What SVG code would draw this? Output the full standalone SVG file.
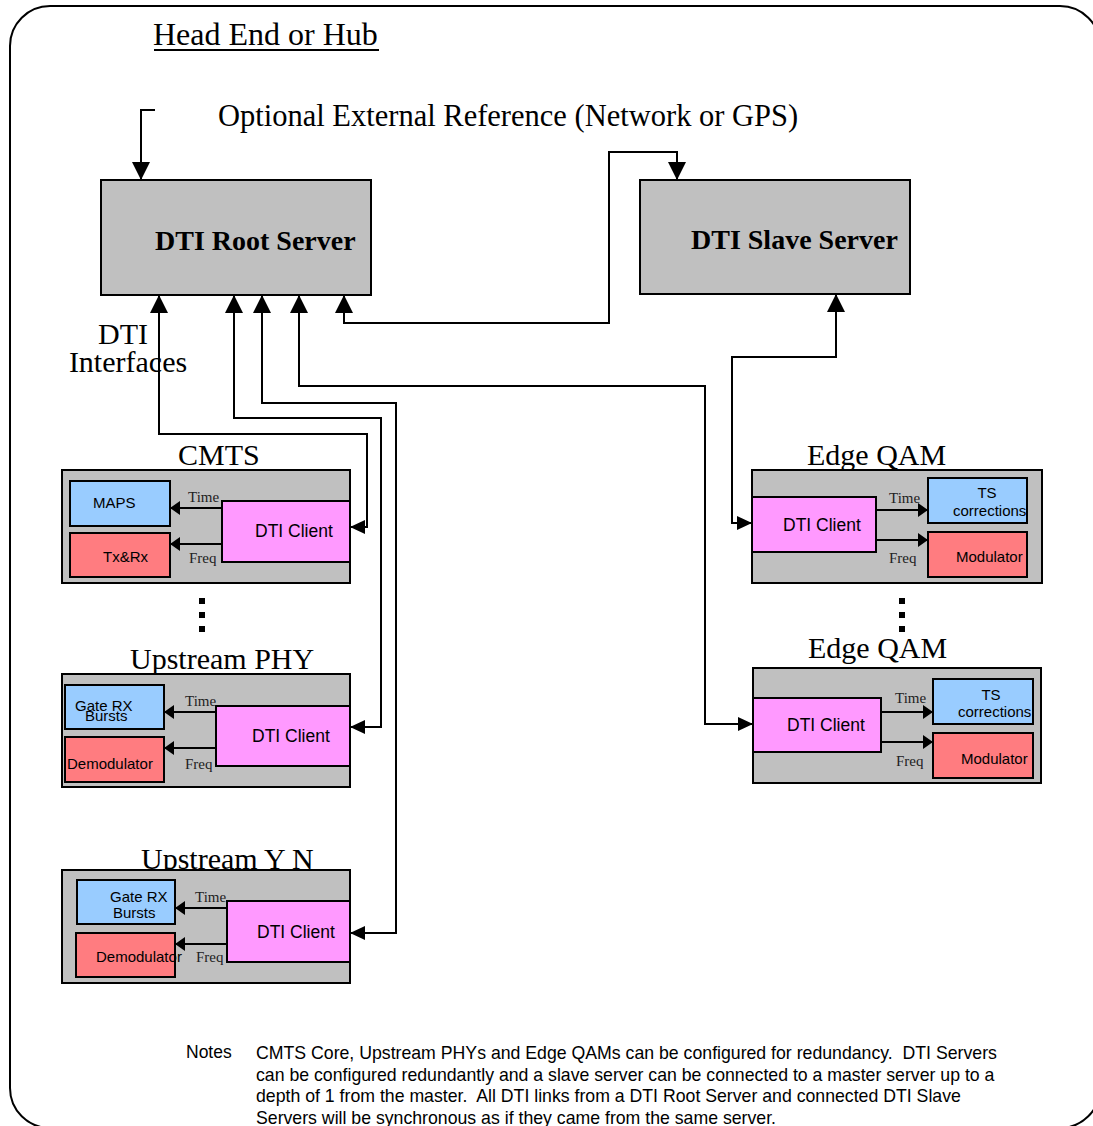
<svg xmlns="http://www.w3.org/2000/svg" width="1093" height="1126" viewBox="0 0 1093 1126">
<style>
.serif{font-family:"Liberation Serif","Times New Roman",serif;fill:#000}
.sans{font-family:"Liberation Sans",Arial,sans-serif;fill:#000}
.big{font-size:30px}
.srv{font-size:28px;font-weight:bold}
.lbl{font-size:15px;fill:#222}
.in{font-size:15px}
.cl{font-size:17.5px}
.note{font-size:17.7px;white-space:pre}
.gray{fill:#C0C0C0;stroke:#000;stroke-width:2}
.blue{fill:#99CCFF;stroke:#000;stroke-width:2}
.red{fill:#FF7C80;stroke:#000;stroke-width:2}
.pink{fill:#FF99FF;stroke:#000;stroke-width:2}
.ln{fill:none;stroke:#000;stroke-width:2}
</style>
<defs>
<marker id="ab" markerUnits="userSpaceOnUse" markerWidth="18" markerHeight="18" viewBox="0 0 18 18" refX="18" refY="9" orient="auto-start-reverse"><path d="M0,0L18,9L0,18z" fill="#000"/></marker>
<marker id="am" markerUnits="userSpaceOnUse" markerWidth="15" markerHeight="14" viewBox="0 0 15 14" refX="15" refY="7" orient="auto"><path d="M0,0L15,7L0,14z" fill="#000"/></marker>
<marker id="as" markerUnits="userSpaceOnUse" markerWidth="10" markerHeight="14" viewBox="0 0 10 14" refX="10" refY="7" orient="auto"><path d="M0,0L10,7L0,14z" fill="#000"/></marker>
</defs>
<rect x="10" y="6" width="1090" height="1122" rx="40" ry="40" fill="none" stroke="#000" stroke-width="2"/>
<g id="title">
<text class="serif" x="153" y="45" font-size="32">Head End or Hub</text>
<line x1="154" y1="50" x2="379" y2="50" stroke="#000" stroke-width="2"/>
</g>
<text class="serif" x="218" y="126" font-size="30.5">Optional External Reference (Network or GPS)</text>
<text class="serif big" x="123" y="344" text-anchor="middle">DTI</text>
<text class="serif big" x="128" y="372" text-anchor="middle">Interfaces</text>
<g id="root-server">
<rect class="gray" x="101" y="180" width="270" height="115" stroke-width="1.5"/>
<text class="serif srv" x="155" y="250">DTI Root Server</text>
</g>
<g id="slave-server">
<rect class="gray" x="640" y="180" width="270" height="114" stroke-width="1.5"/>
<text class="serif srv" x="691" y="249">DTI Slave Server</text>
</g>
<g id="cmts">
<text class="serif big" x="178" y="465">CMTS</text>
<rect class="gray" x="62" y="470" width="288" height="113"/>
<rect class="blue" x="70" y="481" width="100" height="45"/>
<text class="sans in" x="93" y="508">MAPS</text>
<rect class="red" x="70" y="533" width="100" height="44"/>
<text class="sans in" x="103" y="562">Tx&amp;Rx</text>
<rect class="pink" x="222" y="501" width="128" height="61"/>
<text class="sans cl" x="255" y="537">DTI Client</text>
<path class="ln" d="M222,508H170" marker-end="url(#as)"/>
<path class="ln" d="M222,544H170" marker-end="url(#as)"/>
<text class="serif lbl" x="188" y="502">Time</text>
<text class="serif lbl" x="189" y="563">Freq</text>
</g>
<g id="dots-left">
<rect x="199" y="598" width="6" height="6"/>
<rect x="199" y="612" width="6" height="6"/>
<rect x="199" y="626" width="6" height="6"/>
</g>
<g id="upstream-phy">
<text class="serif big" x="130" y="669">Upstream PHY</text>
<rect class="gray" x="62" y="674" width="288" height="113"/>
<rect class="blue" x="65" y="685" width="99" height="44"/>
<text class="sans in" x="75" y="711">Gate RX</text>
<text class="sans in" x="85" y="721">Bursts</text>
<rect class="red" x="65" y="737" width="99" height="45"/>
<text class="sans in" x="67" y="769">Demodulator</text>
<rect class="pink" x="216" y="706" width="134" height="60"/>
<text class="sans cl" x="252" y="742">DTI Client</text>
<path class="ln" d="M216,712H164" marker-end="url(#as)"/>
<path class="ln" d="M216,748H164" marker-end="url(#as)"/>
<text class="serif lbl" x="185" y="706">Time</text>
<text class="serif lbl" x="185" y="769">Freq</text>
</g>
<g id="upstream-yn">
<text class="serif big" x="141" y="869">Upstream Y N</text>
<rect class="gray" x="62" y="870" width="288" height="113"/>
<rect class="blue" x="77" y="880" width="98" height="44"/>
<text class="sans in" x="110" y="902">Gate RX</text>
<text class="sans in" x="113" y="918">Bursts</text>
<rect class="red" x="76" y="933" width="99" height="44"/>
<text class="sans in" x="96" y="962">Demodulator</text>
<rect class="pink" x="227" y="901" width="123" height="61"/>
<text class="sans cl" x="257" y="938">DTI Client</text>
<path class="ln" d="M227,908H175" marker-end="url(#as)"/>
<path class="ln" d="M227,944H175" marker-end="url(#as)"/>
<text class="serif lbl" x="195" y="902">Time</text>
<text class="serif lbl" x="196" y="962">Freq</text>
</g>
<g id="edge-qam-1">
<text class="serif big" x="807" y="465">Edge QAM</text>
<rect class="gray" x="752" y="470" width="290" height="113"/>
<rect class="pink" x="752" y="497" width="124" height="55"/>
<text class="sans cl" x="783" y="531">DTI Client</text>
<rect class="blue" x="928" y="478" width="99" height="45"/>
<text class="sans in" x="987" y="498" text-anchor="middle">TS</text>
<text class="sans in" x="953" y="516">corrections</text>
<rect class="red" x="928" y="532" width="99" height="45"/>
<text class="sans in" x="956" y="562">Modulator</text>
<path class="ln" d="M876,510H928" marker-end="url(#as)"/>
<path class="ln" d="M876,540H928" marker-end="url(#as)"/>
<text class="serif lbl" x="889" y="503">Time</text>
<text class="serif lbl" x="889" y="563">Freq</text>
</g>
<g id="dots-right">
<rect x="899" y="598" width="6" height="6"/>
<rect x="899" y="612" width="6" height="6"/>
<rect x="899" y="626" width="6" height="6"/>
</g>
<g id="edge-qam-2">
<text class="serif big" x="808" y="658">Edge QAM</text>
<rect class="gray" x="753" y="668" width="288" height="115"/>
<rect class="pink" x="753" y="698" width="128" height="54"/>
<text class="sans cl" x="787" y="731">DTI Client</text>
<rect class="blue" x="933" y="679" width="100" height="45"/>
<text class="sans in" x="991" y="700" text-anchor="middle">TS</text>
<text class="sans in" x="958" y="717">corrections</text>
<rect class="red" x="933" y="733" width="100" height="45"/>
<text class="sans in" x="961" y="764">Modulator</text>
<path class="ln" d="M881,712H933" marker-end="url(#as)"/>
<path class="ln" d="M881,742H933" marker-end="url(#as)"/>
<text class="serif lbl" x="895" y="703">Time</text>
<text class="serif lbl" x="896" y="766">Freq</text>
</g>
<g id="connectors">
<path class="ln" d="M155,110H141V180" marker-end="url(#ab)"/>
<path class="ln" d="M344,295V323H609V152H677V180" marker-start="url(#ab)" marker-end="url(#ab)"/>
<path class="ln" d="M159,295V434H367V527H350" marker-start="url(#ab)" marker-end="url(#am)"/>
<path class="ln" d="M234,295V418H381V727H350" marker-start="url(#ab)" marker-end="url(#am)"/>
<path class="ln" d="M262,295V403H396V933H350" marker-start="url(#ab)" marker-end="url(#am)"/>
<path class="ln" d="M299,295V386H705V724H753" marker-start="url(#ab)" marker-end="url(#am)"/>
<path class="ln" d="M836,294V357H732V523H752" marker-start="url(#ab)" marker-end="url(#am)"/>
</g>
<g id="notes">
<text class="sans" x="186" y="1058" font-size="17.5">Notes</text>
<text class="sans note" xml:space="preserve"><tspan x="256" y="1059">CMTS Core, Upstream PHYs and Edge QAMs can be configured for redundancy.  DTI Servers</tspan><tspan x="256" y="1081">can be configured redundantly and a slave server can be connected to a master server up to a</tspan><tspan x="256" y="1102">depth of 1 from the master.  All DTI links from a DTI Root Server and connected DTI Slave</tspan><tspan x="256" y="1124">Servers will be synchronous as if they came from the same server.</tspan></text>
</g>
</svg>
